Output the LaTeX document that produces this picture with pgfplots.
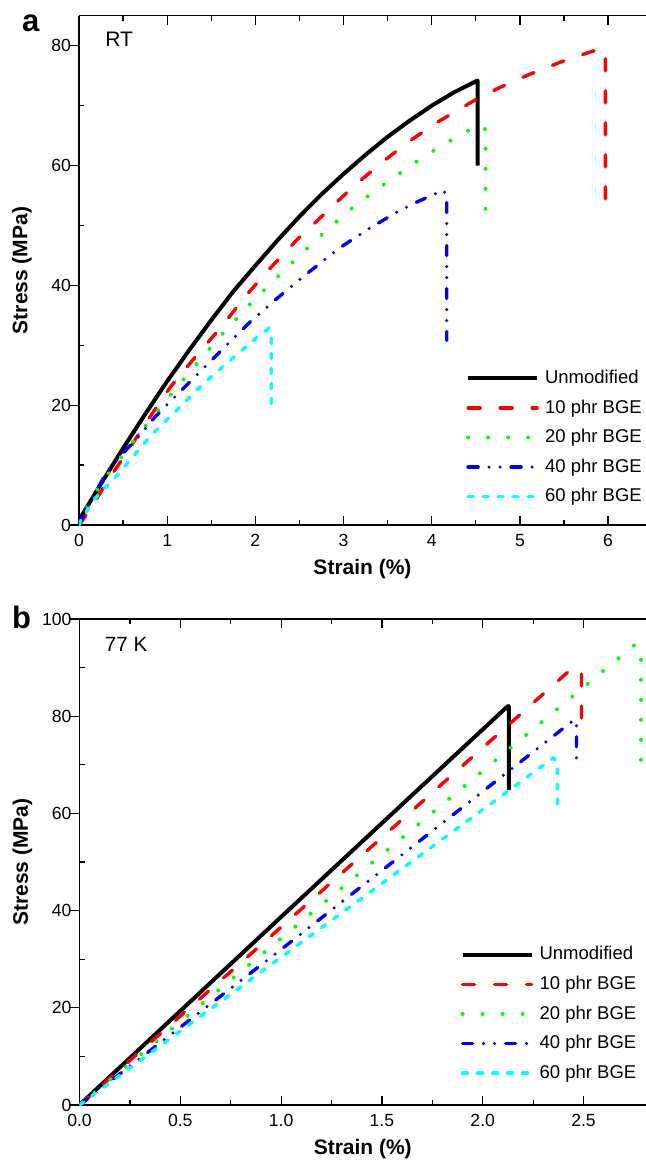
\documentclass[border=0pt]{standalone}
\usepackage{fontspec}
\setmainfont{Liberation Sans}
\usepackage{pgfplots}
\pgfplotsset{compat=1.18}
\definecolor{cred}{HTML}{FF0000}
\definecolor{cgreen}{HTML}{00FF00}
\definecolor{cblue}{HTML}{0000FF}
\definecolor{ccyan}{HTML}{00FFFF}
\pgfplotsset{
  panel/.style={
    scale only axis,
    axis x line*=box,
    axis y line*=left,
    axis line style={line width=0.6pt},
    xtick align=inside,
    ytick align=outside,
    major tick length=4.5pt,
    minor tick length=2.5pt,
    tick style={line width=0.6pt, black},
    minor x tick num=1,
    extra y tick labels={},
    extra y tick style={tick align=inside, major tick length=2.5pt},
    ymin=0,
    xmin=0,
    /pgf/number format/assume math mode=true,
    tick label style={font=\fontsize{8.8}{10}\selectfont},
    yticklabel style={xshift=4pt},
    xticklabel style={yshift=-1pt},
    every axis x label/.style={at={(axis description cs:0.5,0)}, yshift=-22pt, anchor=center, font=\fontsize{10.5}{12}\selectfont\bfseries},
    every axis y label/.style={at={(axis description cs:0,0.5)}, xshift=-28.5pt, rotate=90, anchor=center, font=\fontsize{10.5}{12}\selectfont\bfseries},
    legend cell align=left,
    legend image code/.code={\draw[##1] (0pt,0pt) -- (34.5pt,0pt);},
    legend style={draw=none, fill=none, inner sep=0pt, row sep=3.6pt, column sep=1.5pt,
      font=\fontsize{9.25}{11}\selectfont,
      nodes={inner sep=1.5pt}},
  },
  sunmod/.style={black, line width=2pt, line join=round},
  s10/.style={cred, line width=1.7pt, line cap=round, dash pattern=on 6pt off 10pt},
  s20/.style={cgreen, line width=2pt, line cap=round, dash pattern=on 0pt off 10pt},
  s40/.style={cblue, line width=1.7pt, line cap=round, dash pattern=on 5pt off 5.5pt on 0pt off 5.5pt on 0pt off 5.5pt},
  s60/.style={ccyan, line width=1.7pt, line cap=round, dash pattern=on 2.5pt off 5pt},
}
\begin{document}
\begin{tikzpicture}
\path[use as bounding box] (-39.5pt,-318pt) rectangle (283.5pt,262.5pt);

% (a) room temperature
\begin{axis}[
  panel,
  at={(0pt,0pt)}, anchor=south west,
  width=283.5pt, height=254.6pt,
  xmax=6.43, ymax=85,
  xtick={0,1,2,3,4,5,6},
  ytick={0,20,40,60,80},
  extra y ticks={10,30,50,70},
  xlabel={Strain (\%)},
  ylabel={Stress (MPa)},
  legend style={at={(0.682,0.311)}, anchor=north west},
]
\addplot[sunmod] coordinates {(0,0.8) (0.25,6.9) (0.5,12.8) (0.75,18.5) (1.0,24) (1.25,29.2) (1.5,34.2) (1.75,39) (2.0,43.3) (2.25,47.5) (2.5,51.5) (2.75,55.2) (3.0,58.6) (3.25,61.8) (3.5,64.8) (3.75,67.5) (4.0,70) (4.25,72.2) (4.52,74.2) (4.52,60)};
\addplot[s10] coordinates {(0,0) (0.1,2) (0.33,7.5) (0.56,12.5) (0.77,17.3) (1.04,23.1) (1.35,28.6) (1.61,33) (1.9,38.4) (2.17,42.9) (2.47,47.6) (2.81,52.3) (3.11,56.5) (3.45,60.7) (3.76,64.2) (4.06,67.2) (4.51,71.1) (4.78,73.1) (5.12,75.3) (5.5,77.5) (5.93,79.6) (5.97,78.8) (5.97,53)};
\addplot[s20] coordinates {(0,0) (0.13,4.2) (0.28,7.5) (0.6,13.7) (0.93,19.8) (1.27,25.8) (1.62,31.8) (1.98,37.5) (2.36,43) (2.74,48.3) (3.12,53.2) (3.52,57.5) (3.93,61.7) (4.33,65.2) (4.55,66.8) (4.61,66) (4.61,51)};
\addplot[s40] coordinates {(0,0) (0.1,3) (0.32,9) (0.52,12.3) (0.69,15) (0.86,18) (1.02,20.4) (1.32,24.8) (1.61,29.1) (1.94,33.9) (2.26,38) (2.58,41.9) (2.96,46.3) (3.28,49.4) (3.6,52.2) (3.83,53.9) (4.13,55.9) (4.17,55) (4.17,30.8)};
\addplot[s60] coordinates {(0,0) (0.02,0.8) (0.18,4.4) (0.45,8.6) (0.82,15) (1.09,18.9) (1.39,23.3) (1.7,27.3) (2.0,31.1) (2.15,32.8) (2.18,32) (2.18,19.7)};
\legend{Unmodified, 10 phr BGE, 20 phr BGE, 40 phr BGE, 60 phr BGE}
\node[anchor=north west, inner sep=0pt, font=\fontsize{10.5}{12}\selectfont] at (rel axis cs:0,1) [xshift=13pt, yshift=-8pt] {RT};
\end{axis}

% (b) 77 K
\begin{axis}[
  panel,
  at={(0.25pt,-290pt)}, anchor=south west,
  width=283.25pt, height=243pt,
  xmax=2.81, ymax=100,
  xtick={0,0.5,1,1.5,2,2.5},
  xticklabel style={/pgf/number format/.cd, fixed, fixed zerofill, precision=1},
  ytick={0,20,40,60,80,100},
  extra y ticks={10,30,50,70,90},
  xlabel={Strain (\%)},
  ylabel={Stress (MPa)},
  legend style={at={(0.672,0.333)}, anchor=north west},
]
\addplot[sunmod] coordinates {(0,0) (1.0,38.7) (2.125,82.1) (2.13,82) (2.13,64.8)};
\addplot[s10] coordinates {(0,0) (1.0,36.6) (2.45,90.1) (2.49,89.3) (2.49,78.5)};
\addplot[s20] coordinates {(0,0) (1.0,34.3) (2.76,94.9) (2.785,93) (2.785,71)};
\addplot[s40] coordinates {(0,0) (1.0,32) (2.455,79.3) (2.465,78.5) (2.465,70)};
\addplot[s60] coordinates {(0,0) (1.0,30.4) (2.35,71.4) (2.37,70.6) (2.37,60.3)};
\legend{Unmodified, 10 phr BGE, 20 phr BGE, 40 phr BGE, 60 phr BGE}
\node[anchor=north west, inner sep=0pt, font=\fontsize{10.3}{12}\selectfont] at (rel axis cs:0,1) [xshift=12.5pt, yshift=-9pt] {77 K};
\end{axis}

\node[anchor=base west, inner sep=0pt, font=\fontsize{15.5}{17}\selectfont\bfseries] at (-28.6pt,246.5pt) {a};
\node[anchor=base west, inner sep=0pt, font=\fontsize{15.5}{17}\selectfont\bfseries] at (-33.6pt,-52pt) {b};
\end{tikzpicture}
\end{document}
